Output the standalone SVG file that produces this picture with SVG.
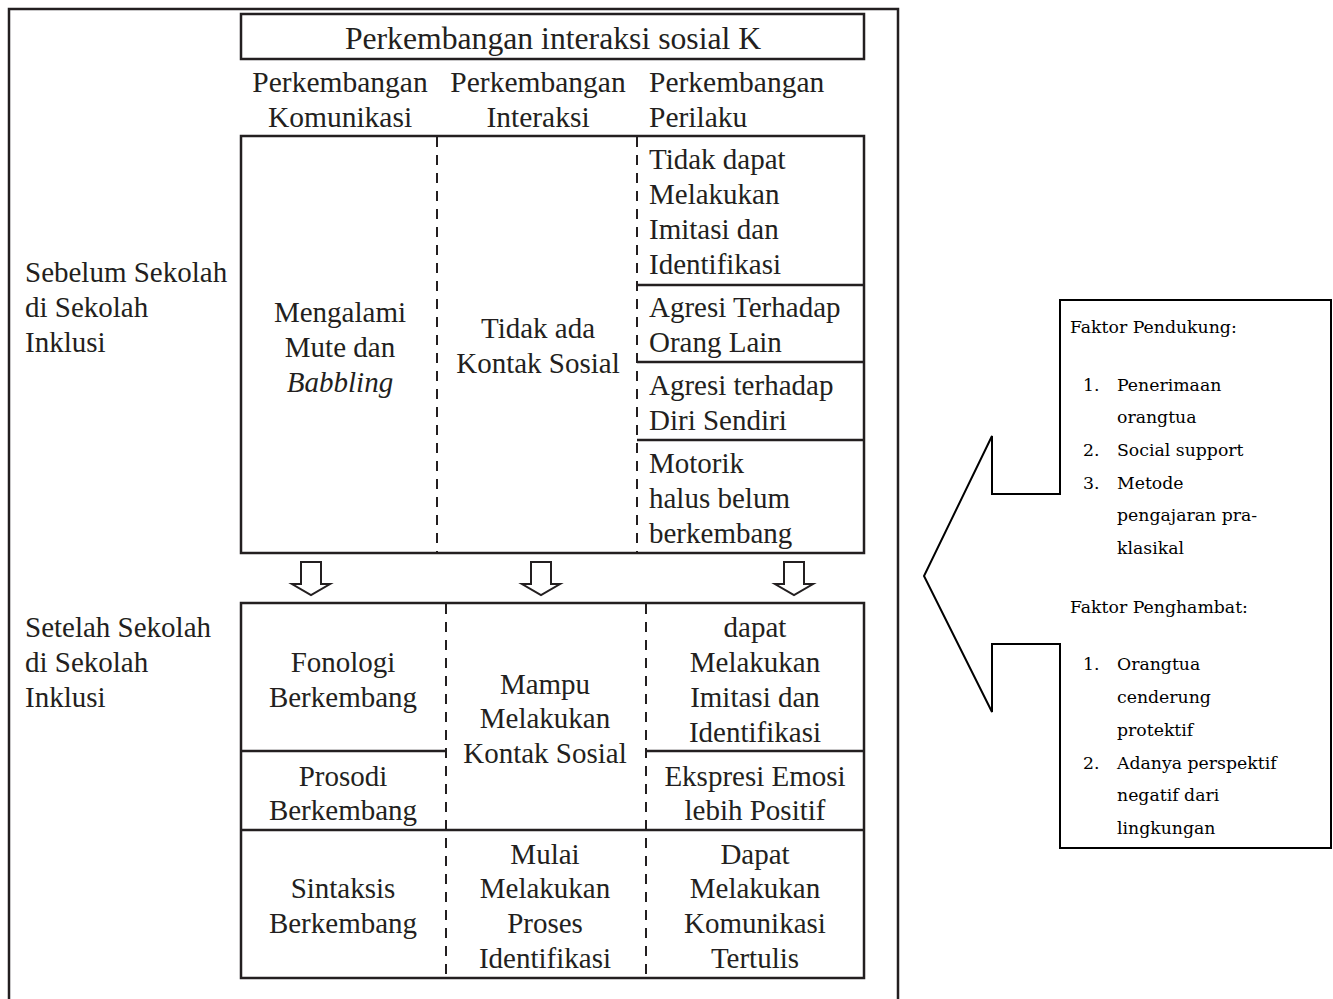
<svg xmlns="http://www.w3.org/2000/svg" width="1333" height="999" viewBox="0 0 1333 999">
<style>
.t{font-family:"Liberation Serif","DejaVu Serif",serif;font-size:29px;fill:#231f20}
.h{font-size:29.5px}
.ttl{font-size:31.7px}
.c{text-anchor:middle}
.f{font-family:"DejaVu Serif","Liberation Serif",serif;font-size:17.3px;fill:#000}
.box{fill:none;stroke:#231f20;stroke-width:2.5}
.ln{stroke:#231f20;stroke-width:2.5}
.dash{stroke:#231f20;stroke-width:2;stroke-dasharray:10 8}
.arr{fill:#fff;stroke:#231f20;stroke-width:2}
</style>
<rect width="1333" height="999" fill="#fff"/>
<g id="frame"><path class="box" d="M9,1010 V9 H898 V1010"/></g>
<g id="title"><rect class="box" x="241" y="14" width="623" height="45"/><text class="t ttl c" x="553" y="49">Perkembangan interaksi sosial K</text></g>
<g id="headers">
<text class="t h c" x="340" y="92">Perkembangan</text><text class="t h c" x="340" y="127">Komunikasi</text>
<text class="t h c" x="538" y="92">Perkembangan</text><text class="t h c" x="538" y="127">Interaksi</text>
<text class="t h" x="649" y="92">Perkembangan</text><text class="t h" x="649" y="127">Perilaku</text>
</g>
<g id="row-labels">
<text class="t" x="25" y="282">Sebelum Sekolah</text><text class="t" x="25" y="317">di Sekolah</text><text class="t" x="25" y="352">Inklusi</text>
<text class="t" x="25" y="637">Setelah Sekolah</text><text class="t" x="25" y="672">di Sekolah</text><text class="t" x="25" y="707">Inklusi</text>
</g>
<g id="before">
<rect class="box" x="241" y="136" width="623" height="417"/>
<line class="dash" x1="437" y1="137" x2="437" y2="552"/>
<line class="dash" x1="637" y1="137" x2="637" y2="552"/>
<line class="ln" x1="637" y1="285" x2="864" y2="285"/>
<line class="ln" x1="637" y1="362" x2="864" y2="362"/>
<line class="ln" x1="637" y1="440" x2="864" y2="440"/>
<text class="t c" x="340" y="322">Mengalami</text><text class="t c" x="340" y="357">Mute dan</text><text class="t c" x="340" y="392" font-style="italic">Babbling</text>
<text class="t c" x="538" y="338">Tidak ada</text><text class="t c" x="538" y="373">Kontak Sosial</text>
<text class="t" x="649" y="169">Tidak dapat</text><text class="t" x="649" y="204">Melakukan</text><text class="t" x="649" y="239">Imitasi dan</text><text class="t" x="649" y="274">Identifikasi</text>
<text class="t" x="649" y="317">Agresi Terhadap</text><text class="t" x="649" y="352">Orang Lain</text>
<text class="t" x="649" y="395">Agresi terhadap</text><text class="t" x="649" y="430">Diri Sendiri</text>
<text class="t" x="649" y="473">Motorik</text><text class="t" x="649" y="508">halus belum</text><text class="t" x="649" y="543">berkembang</text>
</g>
<g id="arrows">
<path class="arr" d="M301,562 H321 V584 H330 L311,595 L292,584 H301 Z"/>
<path class="arr" d="M531,562 H551 V584 H560 L541,595 L522,584 H531 Z"/>
<path class="arr" d="M784,562 H804 V584 H813 L794,595 L775,584 H784 Z"/>
</g>
<g id="after">
<rect class="box" x="241" y="603" width="623" height="375"/>
<line class="dash" x1="446" y1="604" x2="446" y2="977"/>
<line class="dash" x1="646" y1="604" x2="646" y2="977"/>
<line class="ln" x1="241" y1="751" x2="446" y2="751"/>
<line class="ln" x1="646" y1="751" x2="864" y2="751"/>
<line class="ln" x1="241" y1="830" x2="864" y2="830"/>
<text class="t c" x="343" y="672">Fonologi</text><text class="t c" x="343" y="707">Berkembang</text>
<text class="t c" x="343" y="786">Prosodi</text><text class="t c" x="343" y="820">Berkembang</text>
<text class="t c" x="343" y="898">Sintaksis</text><text class="t c" x="343" y="933">Berkembang</text>
<text class="t c" x="545" y="694">Mampu</text><text class="t c" x="545" y="728">Melakukan</text><text class="t c" x="545" y="763">Kontak Sosial</text>
<text class="t c" x="545" y="864">Mulai</text><text class="t c" x="545" y="898">Melakukan</text><text class="t c" x="545" y="933">Proses</text><text class="t c" x="545" y="968">Identifikasi</text>
<text class="t c" x="755" y="637">dapat</text><text class="t c" x="755" y="672">Melakukan</text><text class="t c" x="755" y="707">Imitasi dan</text><text class="t c" x="755" y="742">Identifikasi</text>
<text class="t c" x="755" y="786">Ekspresi Emosi</text><text class="t c" x="755" y="820">lebih Positif</text>
<text class="t c" x="755" y="864">Dapat</text><text class="t c" x="755" y="898">Melakukan</text><text class="t c" x="755" y="933">Komunikasi</text><text class="t c" x="755" y="968">Tertulis</text>
</g>
<g id="factors">
<path fill="#fff" stroke="#000" stroke-width="2" d="M1060,300 H1331 V848 H1060 V644 H992 V712 L924,576 L992,436 V494 H1060 Z"/>
<text class="f" x="1070" y="333">Faktor Pendukung:</text>
<text class="f" x="1083" y="391">1.</text><text class="f" x="1117" y="391">Penerimaan</text>
<text class="f" x="1117" y="423">orangtua</text>
<text class="f" x="1083" y="456">2.</text><text class="f" x="1117" y="456">Social support</text>
<text class="f" x="1083" y="489">3.</text><text class="f" x="1117" y="489">Metode</text>
<text class="f" x="1117" y="521">pengajaran pra-</text>
<text class="f" x="1117" y="554">klasikal</text>
<text class="f" x="1070" y="613">Faktor Penghambat:</text>
<text class="f" x="1083" y="670">1.</text><text class="f" x="1117" y="670">Orangtua</text>
<text class="f" x="1117" y="703">cenderung</text>
<text class="f" x="1117" y="736">protektif</text>
<text class="f" x="1083" y="769">2.</text><text class="f" x="1117" y="769">Adanya perspektif</text>
<text class="f" x="1117" y="801">negatif dari</text>
<text class="f" x="1117" y="834">lingkungan</text>
</g>
</svg>
